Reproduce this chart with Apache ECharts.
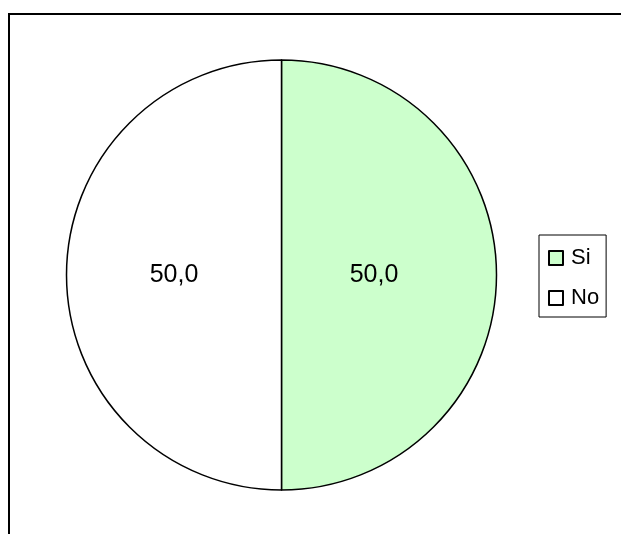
<!DOCTYPE html>
<html>
<head>
<meta charset="utf-8">
<script src="https://cdn.jsdelivr.net/npm/echarts@6/dist/echarts.min.js"></script>
<style>
html,body{margin:0;padding:0;background:#fff;}
#c{width:621px;height:534px;}
</style>
</head>
<body>
<div id="c"></div>
<script>
const categories = ['Si', 'No'];
const values = [50.0, 50.0];
const colors = ['#CCFFCC', '#FFFFFF'];

const chart = echarts.init(document.getElementById('c'), null, {renderer: 'canvas'});
chart.setOption({
  animation: false,
  backgroundColor: '#fff',
  textStyle: {fontFamily: 'Liberation Sans, Arial, sans-serif'},
  graphic: [{
    type: 'rect',
    shape: {x: 9, y: 14, width: 640, height: 560},
    style: {fill: 'none', stroke: '#000', lineWidth: 2},
    silent: true
  }],
  legend: {
    orient: 'vertical',
    left: 539,
    top: 235,
    itemWidth: 14,
    itemHeight: 14,
    itemGap: 18,
    icon: 'rect',
    padding: [12, 7, 8, 9],
    borderColor: '#000',
    borderWidth: 1,
    textStyle: {fontSize: 22, color: '#000', fontFamily: 'Liberation Sans, Arial, sans-serif', padding: [0, 0, 0, 3]},
    data: categories
  },
  series: [{
    type: 'pie',
    center: [281.5, 275],
    radius: 215,
    startAngle: 90,
    clockwise: true,
    label: {
      position: 'inside',
      fontSize: 25,
      color: '#000',
      fontFamily: 'Liberation Sans, Arial, sans-serif',
      formatter: p => p.value.toFixed(1).replace('.', ',')
    },
    labelLine: {show: false},
    itemStyle: {borderColor: '#000', borderWidth: 1.5},
    emphasis: {disabled: true},
    data: categories.map((c, i) => ({
      name: c,
      value: values[i],
      itemStyle: {color: colors[i]},
      label: i === 0 ? {padding: [0, 36, 0, 0]} : {padding: [0, 0, 0, 6]}
    }))
  }]
});
</script>
</body>
</html>
